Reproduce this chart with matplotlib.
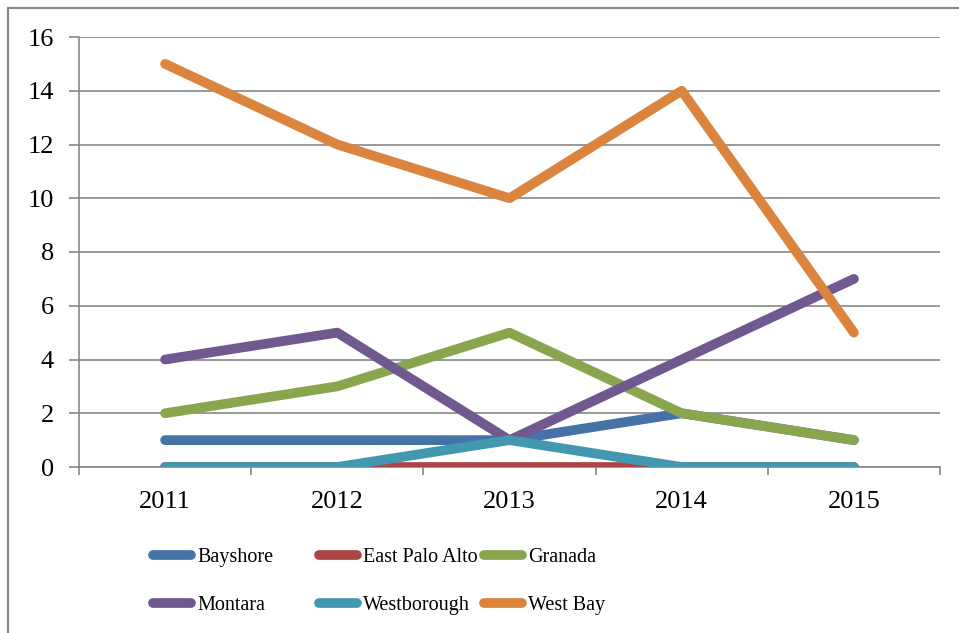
import matplotlib
matplotlib.use("Agg")
import matplotlib.pyplot as plt
from matplotlib.lines import Line2D

# data
years = ["2011", "2012", "2013", "2014", "2015"]
bayshore = [1, 1, 1, 2, 1]
east_palo_alto = [0, 0, 0, 0, 0]
granada = [2, 3, 5, 2, 1]
montara = [4, 5, 1, 4, 7]
westborough = [0, 0, 1, 0, 0]
west_bay = [15, 12, 10, 14, 5]

series = [
    ("Bayshore", bayshore, "#4572A7"),
    ("East Palo Alto", east_palo_alto, "#AA4643"),
    ("Granada", granada, "#89A54E"),
    ("Montara", montara, "#71588F"),
    ("Westborough", westborough, "#4198AF"),
    ("West Bay", west_bay, "#DB843D"),
]

plt.rcParams['font.family'] = ['Liberation Serif', 'DejaVu Serif']

fig = plt.figure(figsize=(9.59, 6.33), dpi=100)
W, H = 959, 633
ax = fig.add_axes([79 / W, 1 - 467 / H, (940 - 79) / W, (467 - 37) / H])

x = list(range(len(years)))
for name, vals, col in series:
    ax.plot(x, vals, color=col, lw=7, solid_capstyle='round',
            solid_joinstyle='round', label=name, zorder=3)

grid_col = "#878787"
ax.set_ylim(0, 16)
ax.set_yticks(range(0, 17, 2))
ax.set_xlim(-0.5, len(years) - 0.5)
ax.set_xticks(x)
ax.set_xticklabels(years)
ax.set_xticks([i - 0.5 for i in range(len(years) + 1)], minor=True)
ax.tick_params(axis='x', which='major', length=0, pad=17, labelsize=19)
ax.tick_params(axis='x', which='minor', length=6, width=1.2, color=grid_col)
ax.tick_params(axis='y', length=7, width=1.2, color=grid_col, pad=11, labelsize=19)
ax.yaxis.grid(True, color=grid_col, lw=1.2, zorder=0)
ax.set_axisbelow(True)
for s in ['top', 'right']:
    ax.spines[s].set_visible(False)
for s in ['left', 'bottom']:
    ax.spines[s].set_color(grid_col)
    ax.spines[s].set_linewidth(1.2)

# legend, 3 columns x 2 rows, laid out like the original (row by row)
col_x = [150, 316, 481]
row_y = [555, 603]
for i, (name, _, col) in enumerate(series):
    px = col_x[i % 3]
    py = row_y[i // 3]
    fig.add_artist(Line2D([(px + 3) / W, (px + 41) / W], [1 - py / H, 1 - py / H],
                          color=col, lw=7, solid_capstyle='round',
                          transform=fig.transFigure))
    fig.text((px + 47) / W, 1 - py / H, name, fontsize=14.5,
             va='center_baseline', ha='left')

# outer chart frame (left and top edges visible)
fig.add_artist(Line2D([8 / W, 8 / W], [0, 1 - 8 / H], color=grid_col, lw=1.5,
                      transform=fig.transFigure))
fig.add_artist(Line2D([8 / W, 1], [1 - 8 / H, 1 - 8 / H], color=grid_col, lw=1.5,
                      transform=fig.transFigure))

fig.savefig("out.png", dpi=100)
